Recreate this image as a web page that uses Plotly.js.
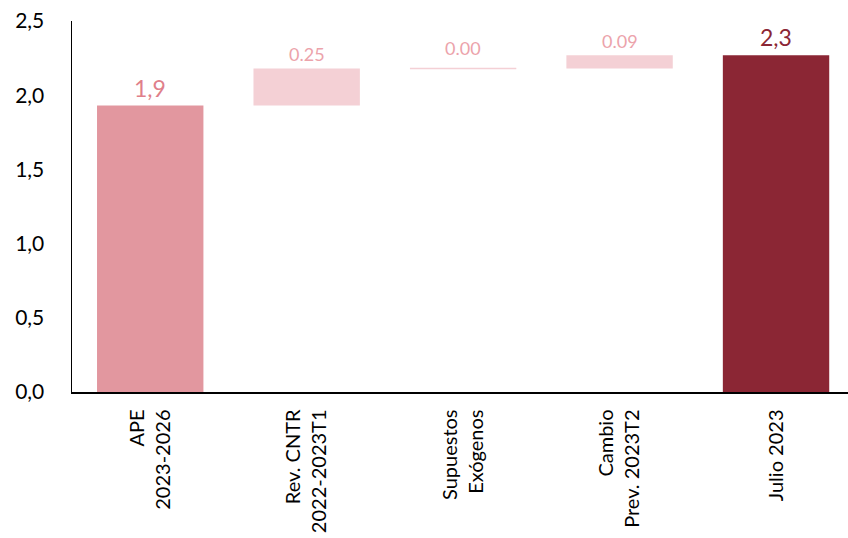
<!DOCTYPE html>
<html>
<head>
<meta charset="utf-8">
<script src="https://cdn.plot.ly/plotly-3.0.1.min.js"></script>
<style>html,body{margin:0;padding:0;background:#fff;}#chart{width:848px;height:538px;}</style>
</head>
<body>
<div id="chart"></div>
<script>
// Data
const categories = ["APE<br>2023-2026", "Rev. CNTR<br>2022-2023T1", "Supuestos<br>Exógenos", "Cambio<br>Prev. 2023T2", "Julio 2023"];
const measures = ["absolute", "relative", "relative", "relative", "total"];
const values = [1.93, 0.25, 0.00, 0.09, 2.27];
const yTickVals = [0, 0.5, 1.0, 1.5, 2.0, 2.5];

// Styles
const barColors = ["#E2979F", "#F4D0D5", "#F4D0D5", "#F4D0D5", "#8B2634"];
const labelColors = ["#E07F8A", "#ECA3AB", "#ECA3AB", "#ECA3AB", "#8B2634"];
const FONT = "Lato, 'Open Sans', sans-serif";
const BARW = 0.68;

// compute bases
const bases = [], heights = [], tops = [], labels = [];
let run = 0;
values.forEach((v, i) => {
  if (measures[i] === "absolute" || measures[i] === "total") {
    bases.push(0); heights.push(v); run = v;
    labels.push(v.toFixed(1).replace(".", ","));
  } else {
    bases.push(run); heights.push(v); run = run + v;
    labels.push(v.toFixed(2));
  }
  tops.push(bases[i] + heights[i]);
});

const trace = {
  type: "bar",
  x: categories,
  y: heights,
  base: bases,
  width: BARW,
  marker: {color: barColors, line: {width: 0}},
  hoverinfo: "none"
};

const shapes = [];
values.forEach((v, i) => {
  if (v === 0) {
    shapes.push({type: "line", xref: "x", yref: "y",
      x0: i - BARW / 2, x1: i + BARW / 2, y0: bases[i], y1: bases[i],
      line: {color: barColors[i], width: 1.5}});
  }
});

const annotations = categories.map((c, i) => {
  const big = measures[i] !== "relative";
  return {
    x: c, y: tops[i], xref: "x", yref: "y",
    text: labels[i], showarrow: false, yanchor: "bottom",
    yshift: big ? 2 : (values[i] === 0 ? 7 : 1),
    font: {family: FONT, size: big ? 23 : 18, color: labelColors[i]}
  };
});

const layout = {
  width: 848, height: 538,
  margin: {l: 72, r: 0, t: 21, b: 146, pad: 0},
  paper_bgcolor: "#fff", plot_bgcolor: "#fff",
  separators: ",.",
  showlegend: false,
  font: {family: FONT, color: "#000"},
  xaxis: {
    type: "category", range: [-0.5, 4.46],
    showline: true, linecolor: "#000", linewidth: 1.5,
    ticks: "", tickangle: -90, ticklabelstandoff: 8,
    tickfont: {family: FONT, size: 20, color: "#000"},
    showgrid: false, zeroline: false, fixedrange: true
  },
  yaxis: {
    range: [0, 2.5], tickvals: yTickVals, tickformat: ".1f",
    showline: true, linecolor: "#000", linewidth: 1.5,
    ticks: "", ticklabelstandoff: 22,
    tickfont: {family: FONT, size: 21, color: "#000"},
    showgrid: false, zeroline: false, fixedrange: true
  },
  bargap: 0.32,
  shapes: shapes,
  annotations: annotations
};

Plotly.newPlot("chart", [trace], layout, {displayModeBar: false, staticPlot: true});
</script>
</body>
</html>
